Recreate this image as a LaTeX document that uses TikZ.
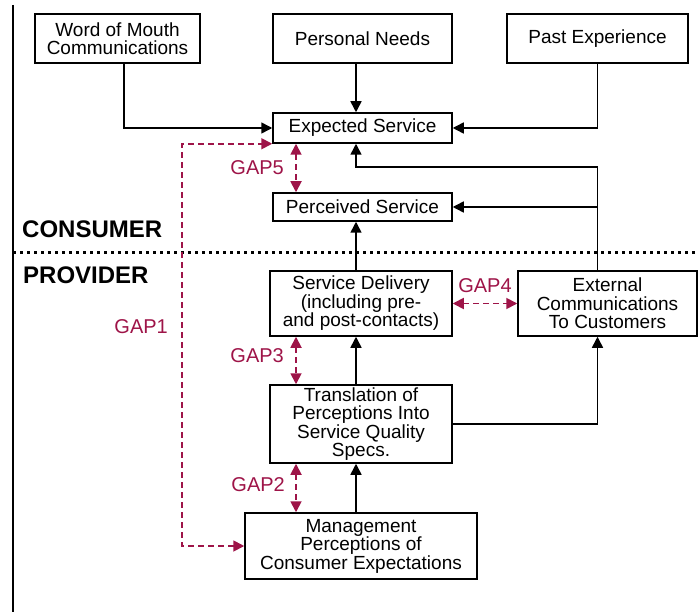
\documentclass[tikz,border=0pt]{standalone}
\usepackage{fontspec}
\setmainfont{Liberation Sans}
\usetikzlibrary{positioning,arrows.meta}
\definecolor{gapred}{RGB}{158,20,72}

\begin{document}
\begin{tikzpicture}[x=1pt,y=-1pt,
    box/.style={draw, line width=1.5pt, inner sep=0pt, align=center, font=\fontsize{19}{18.5}\selectfont},
    tip/.style={line width=1.5pt, -{Triangle[length=11pt,width=11pt]}},
    gap/.style={draw=gapred, line width=1.8pt, dash pattern=on 6pt off 4pt, {Triangle[length=11pt,width=11pt]}-{Triangle[length=11pt,width=11pt]}},
    gaplabel/.style={text=gapred, inner sep=0pt, anchor=east, font=\fontsize{20}{20}\selectfont},
    side/.style={inner sep=0pt, anchor=base west, font=\bfseries\fontsize{24}{24}\selectfont}]
    \useasboundingbox (0,0) rectangle (698,612);
    % nodes
    \node[box, minimum width=165, minimum height=49] (wom)         at (117.5,38.5) {Word of Mouth\\Communications};
    \node[box, minimum width=179, minimum height=49] (needs)       at (362.5,38.5) {Personal Needs};
    \node[box, minimum width=181, minimum height=49] (past)        at (597.5,38.5) {Past Experience};
    \node[box, minimum width=179, minimum height=30] (expected)    at (362.5,128)  {Expected Service};
    \node[box, minimum width=179, minimum height=28] (perceived)   at (362.5,207)  {Perceived Service};
    \node[box, minimum width=182, minimum height=65] (delivery)    at (361,303.5)  {Service Delivery\\(including pre-\\and post-contacts)};
    \node[box, minimum width=179, minimum height=65] (external)    at (607.5,303.5) {External\\Communications\\To Customers};
    \node[box, minimum width=182, minimum height=78] (translation) at (361,424)    {Translation of\\Perceptions Into\\Service Quality\\Specs.};
    \node[box, minimum width=232, minimum height=66] (management)  at (361,546)    {Management\\Perceptions of\\Consumer Expectations};
    \node[side] (consumer) at (22,237) {CONSUMER};
    \node[side] (provider) at (23,283) {PROVIDER};
    \node[gaplabel] (gap1) at (168,327) {GAP1};
    \node[gaplabel] (gap2) at (285,485) {GAP2};
    \node[gaplabel] (gap3) at (284,356) {GAP3};
    \node[gaplabel, anchor=base] (gap4) at (485,292) {GAP4};
    \node[gaplabel] (gap5) at (284,168) {GAP5};
    \coordinate (spine) at (356,0);
    \coordinate (gx) at (296,0);
    \coordinate (g1) at (182,0);
    \coordinate (fb) at (356,167);
    % frame and divider
    \draw[line width=2pt] (13,5) -- (13,612);
    \draw[line width=3pt, dash pattern=on 3pt off 4pt] (13,252) -- (698,252);
    % lines
    \draw[tip] ([xshift=6.5pt]wom.south) |- (expected.west);
    \draw[tip] (needs.south -| spine) -- (expected.north -| spine);
    \draw[tip] (past.south) |- (expected.east);
    \draw[tip] (external.north -| past.south) |- (fb) -- (expected.south -| spine);
    \draw[tip] (perceived.east -| past.south) -- (perceived.east);
    \draw[tip] (delivery.north -| spine) -- (perceived.south -| spine);
    \draw[tip] (translation.north -| spine) -- (delivery.south -| spine);
    \draw[tip] (translation.east) -| (external.south -| past.south);
    \draw[tip] (management.north -| spine) -- (translation.south -| spine);
    % gaps
    \draw[gap] (management.west) -| (g1 |- expected.south) -- (expected.south west);
    \draw[gap] (translation.south -| gx) -- (management.north -| gx);
    \draw[gap] (delivery.south -| gx) -- (translation.north -| gx);
    \draw[gap] (delivery.east) -- (external.west);
    \draw[gap] (expected.south -| gx) -- (perceived.north -| gx);
\end{tikzpicture}
\end{document}
